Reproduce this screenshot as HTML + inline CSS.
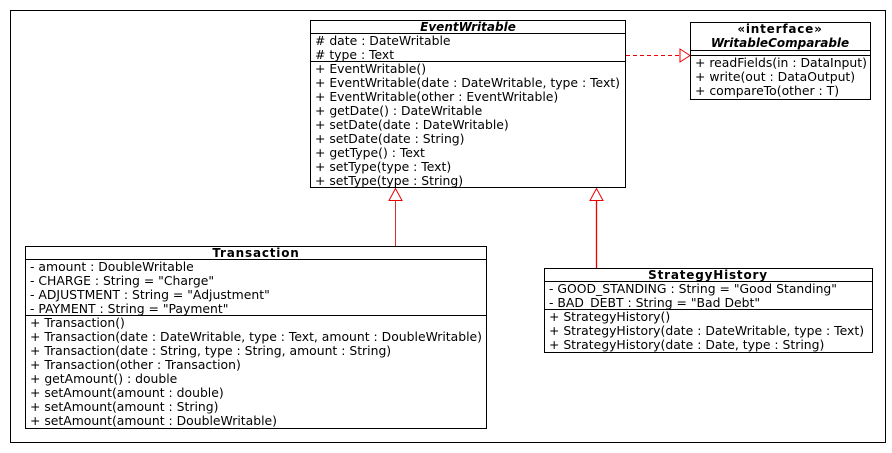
<!DOCTYPE html>
<html><head><meta charset="utf-8"><style>
html,body{margin:0;padding:0;background:#fff;width:892px;height:453px;overflow:hidden}
svg text{font-family:"DejaVu Sans",sans-serif;font-size:12.4px;fill:#000}
.b{font-weight:bold;font-size:12px;letter-spacing:0.8px}
.bi{font-weight:bold;font-style:italic;font-size:12px}
</style></head><body>
<svg width="892" height="453" xmlns="http://www.w3.org/2000/svg">
<rect x="10.5" y="10.5" width="875" height="432" fill="none" stroke="#000"/>
<line x1="395.5" y1="246" x2="395.5" y2="200" stroke="#c33" stroke-width="1"/>
<polygon points="395.5,188.5 389,200.5 402,200.5" fill="#fff" stroke="#e00"/>
<line x1="596.5" y1="268" x2="596.5" y2="200" stroke="#e00" stroke-width="1.3"/>
<polygon points="596.5,188.5 590,200.5 603,200.5" fill="#fff" stroke="#e00"/>
<line x1="626" y1="55.5" x2="680" y2="55.5" stroke="#e00" stroke-dasharray="4,3"/>
<polygon points="690,55.5 680,49 680,62" fill="#fff" stroke="#e00"/>
<rect x="310.5" y="20.5" width="315" height="167" fill="#fff" stroke="#000"/>
<line x1="310" y1="33.5" x2="626" y2="33.5" stroke="#000"/>
<line x1="310" y1="61.5" x2="626" y2="61.5" stroke="#000"/>
<text x="468" y="31" text-anchor="middle" class="bi">EventWritable</text>
<text x="315" y="45"># date : DateWritable</text>
<text x="315" y="59"># type : Text</text>
<text x="315" y="73">+ EventWritable()</text>
<text x="315" y="87">+ EventWritable(date : DateWritable, type : Text)</text>
<text x="315" y="101">+ EventWritable(other : EventWritable)</text>
<text x="315" y="115">+ getDate() : DateWritable</text>
<text x="315" y="129">+ setDate(date : DateWritable)</text>
<text x="315" y="143">+ setDate(date : String)</text>
<text x="315" y="157">+ getType() : Text</text>
<text x="315" y="171">+ setType(type : Text)</text>
<text x="315" y="185">+ setType(type : String)</text>
<rect x="690.5" y="22.5" width="180" height="77" fill="#fff" stroke="#000"/>
<line x1="690" y1="50.5" x2="871" y2="50.5" stroke="#000"/>
<line x1="690" y1="55.5" x2="871" y2="55.5" stroke="#000"/>
<text x="780" y="33" text-anchor="middle" class="b">«interface»</text>
<text x="780" y="47" text-anchor="middle" class="bi">WritableComparable</text>
<text x="695" y="67">+ readFields(in : DataInput)</text>
<text x="695" y="81">+ write(out : DataOutput)</text>
<text x="695" y="95">+ compareTo(other : T)</text>
<rect x="25.5" y="246.5" width="461" height="182" fill="#fff" stroke="#000"/>
<line x1="25" y1="259.5" x2="487" y2="259.5" stroke="#000"/>
<line x1="25" y1="315.5" x2="487" y2="315.5" stroke="#000"/>
<text x="256" y="257" text-anchor="middle" class="b">Transaction</text>
<text x="30" y="271">- amount : DoubleWritable</text>
<text x="30" y="285">- CHARGE : String = "Charge"</text>
<text x="30" y="299">- ADJUSTMENT : String = "Adjustment"</text>
<text x="30" y="313">- PAYMENT : String = "Payment"</text>
<text x="30" y="327">+ Transaction()</text>
<text x="30" y="341">+ Transaction(date : DateWritable, type : Text, amount : DoubleWritable)</text>
<text x="30" y="355">+ Transaction(date : String, type : String, amount : String)</text>
<text x="30" y="369">+ Transaction(other : Transaction)</text>
<text x="30" y="383">+ getAmount() : double</text>
<text x="30" y="397">+ setAmount(amount : double)</text>
<text x="30" y="411">+ setAmount(amount : String)</text>
<text x="30" y="425">+ setAmount(amount : DoubleWritable)</text>
<rect x="544.5" y="268.5" width="328" height="84" fill="#fff" stroke="#000"/>
<line x1="544" y1="281.5" x2="873" y2="281.5" stroke="#000"/>
<line x1="544" y1="309.5" x2="873" y2="309.5" stroke="#000"/>
<text x="708" y="279" text-anchor="middle" class="b">StrategyHistory</text>
<text x="549" y="293">- GOOD_STANDING : String = "Good Standing"</text>
<text x="549" y="307">- BAD_DEBT : String = "Bad Debt"</text>
<text x="549" y="321">+ StrategyHistory()</text>
<text x="549" y="335">+ StrategyHistory(date : DateWritable, type : Text)</text>
<text x="549" y="349">+ StrategyHistory(date : Date, type : String)</text>
</svg>
</body></html>
